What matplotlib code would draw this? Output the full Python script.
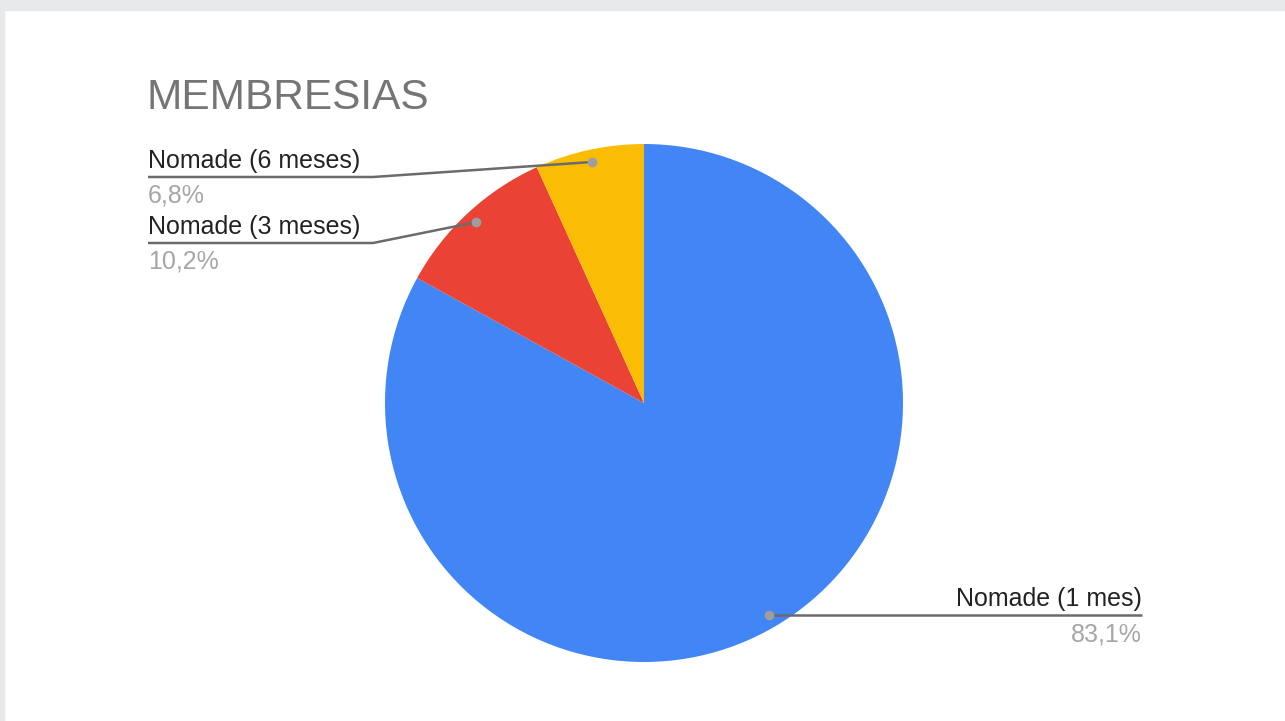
import numpy as np
import matplotlib.pyplot as plt
from matplotlib.patches import Rectangle

plt.rcParams['font.family'] = ['Liberation Sans', 'DejaVu Sans']

# Membership shares
labels = ['Nomade (1 mes)', 'Nomade (3 meses)', 'Nomade (6 meses)']
values = [83.1, 10.2, 6.8]
colors = ['#4285f4', '#ea4335', '#fbbc04']

W, H = 1285, 721
fig = plt.figure(figsize=(W / 100, H / 100), dpi=100)
ax = fig.add_axes([0, 0, 1, 1])

# pixel-like coordinates, y measured from the bottom
cx, cy, r = 644, H - 403, 259
wedges, _ = ax.pie(values, colors=colors, startangle=90, counterclock=False,
                   center=(cx, cy), radius=r,
                   wedgeprops=dict(linewidth=0))
ax.set_xlim(0, W)
ax.set_ylim(0, H)
ax.set_aspect('equal')
ax.axis('off')

# light grey frame around the card
fig.patches.append(Rectangle((0, 1 - 10 / H), 1, 10 / H, transform=fig.transFigure,
                             color='#e8e9eb', zorder=0))
fig.patches.append(Rectangle((0, 0), 4 / W, 1, transform=fig.transFigure,
                             color='#e8e9eb', zorder=0))

ax.text(147, H - 98, 'MEMBRESIAS', fontsize=30.5, color='#757575',
        ha='left', va='center')

# label layout: (line y, knee x, text x, alignment)
layout = {
    'Nomade (1 mes)': (616, None, 1142, 'right'),
    'Nomade (3 meses)': (243, 373, 148, 'left'),
    'Nomade (6 meses)': (177, 373, 148, 'left'),
}

for w, lab, val in zip(wedges, labels, values):
    mid = np.deg2rad((w.theta1 + w.theta2) / 2)
    dx = cx + 0.952 * r * np.cos(mid)
    dy = cy + 0.952 * r * np.sin(mid)
    ly, knee, tx, ha = layout[lab]
    ly = H - ly
    if knee is None:
        xs, ys = [dx, tx], [dy, dy]
        ly = dy
    else:
        xs, ys = [dx, knee, tx], [dy, ly, ly]
    ax.plot(xs, ys, color='#6b6b6b', linewidth=1.8, solid_capstyle='butt', zorder=3)
    ax.plot(dx, dy, 'o', color='#9e9e9e', markersize=7, markeredgewidth=0, zorder=4)
    ax.text(tx, ly + 9, lab, fontsize=18, color='#222222', ha=ha, va='baseline')
    pct = f'{val:.1f}%'.replace('.', ',')
    ax.text(tx, ly - 26, pct, fontsize=18, color='#a6a6a6', ha=ha, va='baseline')

fig.savefig('out.png', dpi=100, facecolor='white')
